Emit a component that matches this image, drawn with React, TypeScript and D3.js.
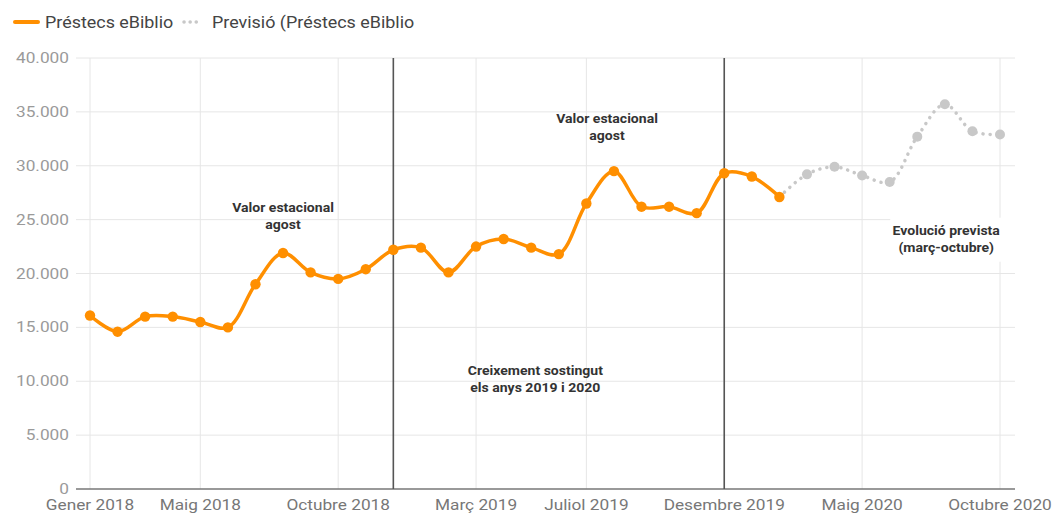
import React from "react";
import * as d3 from "d3";

const months = [
  "2018-01","2018-02","2018-03","2018-04","2018-05","2018-06","2018-07","2018-08","2018-09","2018-10","2018-11","2018-12",
  "2019-01","2019-02","2019-03","2019-04","2019-05","2019-06","2019-07","2019-08","2019-09","2019-10","2019-11","2019-12",
  "2020-01","2020-02","2020-03","2020-04","2020-05","2020-06","2020-07","2020-08","2020-09","2020-10",
];
const loans = [
  16100, 14600, 16000, 16000, 15500, 15000, 19000, 21900, 20100, 19500, 20400, 22200,
  22400, 20100, 22500, 23200, 22400, 21800, 26500, 29500, 26200, 26200, 25600, 29300,
  29000, 27100,
];
// forecast starts at Feb 2020 (index 25)
const forecastStart = 25;
const forecast = [27100, 29200, 29900, 29100, 28500, 32700, 35700, 33200, 32900];

const tickMonths = [0, 4, 9, 14, 18, 23, 28, 33];
const tickLabels = ["Gener 2018", "Maig 2018", "Octubre 2018", "Març 2019", "Juliol 2019", "Desembre 2019", "Maig 2020", "Octubre 2020"];
const yTicks = [0, 5000, 10000, 15000, 20000, 25000, 30000, 35000, 40000];
const markerMonths = [11, 23];

const annotations = [
  { m: 7, v: 25700, lines: ["Valor estacional", "agost"] },
  { m: 18.75, v: 33950, lines: ["Valor estacional", "agost"] },
  { m: 16.15, v: 10580, lines: ["Creixement sostingut", "els anys 2019 i 2020"] },
  { m: 31.05, v: 23600, lines: ["Evolució prevista", "(març-octubre)"], box: true },
];

const ORANGE = "#ff8f00";
const GREY = "#c8c8c8";
const FONT = "Roboto, 'Noto Sans', sans-serif";
const SX = 1.15;

function T({ x, y, sx = SX, anchor = "start", size, weight = 400, fill, children }: any) {
  return (
    <text transform={`translate(${x},${y}) scale(${sx},1)`} textAnchor={anchor} fontSize={size} fontWeight={weight} fill={fill}>
      {children}
    </text>
  );
}

export default function App() {
  const W = 1057, H = 515;
  const x = d3.scaleLinear().domain([0, 33]).range([90, 1000]);
  const y = d3.scaleLinear().domain([0, 40000]).range([489, 58]);
  const gridL = 76, gridR = 1015;
  const fmt = (v: number) => d3.format(",")(v).replace(/,/g, ".");

  const line = d3.line<number>().x((_, i) => x(i)).y((d) => y(d)).curve(d3.curveCatmullRom.alpha(0.5));
  const fLine = d3.line<number>().x((_, i) => x(i + forecastStart)).y((d) => y(d)).curve(d3.curveCatmullRom.alpha(0.5));

  return (
    <svg width={W} height={H} style={{ position: "absolute", left: 0, top: 0, background: "#fff" }} fontFamily={FONT}>
      {/* legend */}
      <line x1={15} x2={38} y1={22} y2={22} stroke={ORANGE} strokeWidth={4} strokeLinecap="round" />
      <T x={45} y={28} size={16} fill="#444" sx={1.12}>Préstecs eBiblio</T>
      <line x1={184} x2={201} y1={22} y2={22} stroke={GREY} strokeWidth={3.5} strokeDasharray="0.1 6" strokeLinecap="round" />
      <T x={212} y={28} size={16} fill="#444" sx={1.12}>Previsió (Préstecs eBiblio</T>

      {/* horizontal grid */}
      {yTicks.map((t) => (
        <g key={t}>
          {t > 0 && <line x1={gridL} x2={gridR} y1={y(t)} y2={y(t)} stroke="#e6e6e6" strokeWidth={1} />}
          <T x={69} y={y(t) + 5} anchor="end" size={15} fill="#9a9a9a">{fmt(t)}</T>
        </g>
      ))}
      {/* vertical grid */}
      {tickMonths.map((m, i) => (
        <g key={m}>
          <line x1={x(m)} x2={x(m)} y1={y(40000)} y2={y(0)} stroke="#e6e6e6" strokeWidth={1} />
          <T x={x(m)} y={510} anchor="middle" size={15} fill="#777">{tickLabels[i]}</T>
        </g>
      ))}
      {/* baseline */}
      <line x1={gridL} x2={gridR} y1={y(0)} y2={y(0)} stroke="#777" strokeWidth={1.5} />

      {/* marker lines */}
      {markerMonths.map((m) => (
        <line key={m} x1={x(m)} x2={x(m)} y1={y(40000)} y2={y(0)} stroke="#555" strokeWidth={1.6} />
      ))}

      {/* annotations */}
      {annotations.map((a, i) => (
        <g key={i}>
          {a.box && <rect x={x(a.m) - 56} y={y(a.v) - 17} width={126} height={44} fill="#fff" />}
          {a.lines.map((l, j) => (
            <T key={j} x={x(a.m)} y={y(a.v) + j * 17} anchor="middle" size={13} weight={700} fill="#333" sx={1.08}>{l}</T>
          ))}
        </g>
      ))}

      {/* forecast */}
      <path d={fLine(forecast) || ""} fill="none" stroke={GREY} strokeWidth={3.5} strokeDasharray="0.1 7" strokeLinecap="round" />
      {forecast.slice(1).map((v, i) => (
        <circle key={i} cx={x(i + 1 + forecastStart)} cy={y(v)} r={5} fill={GREY} />
      ))}

      {/* actual */}
      <path d={line(loans) || ""} fill="none" stroke={ORANGE} strokeWidth={3.5} strokeLinejoin="round" />
      {loans.map((v, i) => (
        <circle key={i} cx={x(i)} cy={y(v)} r={5.2} fill={ORANGE} />
      ))}
    </svg>
  );
}
